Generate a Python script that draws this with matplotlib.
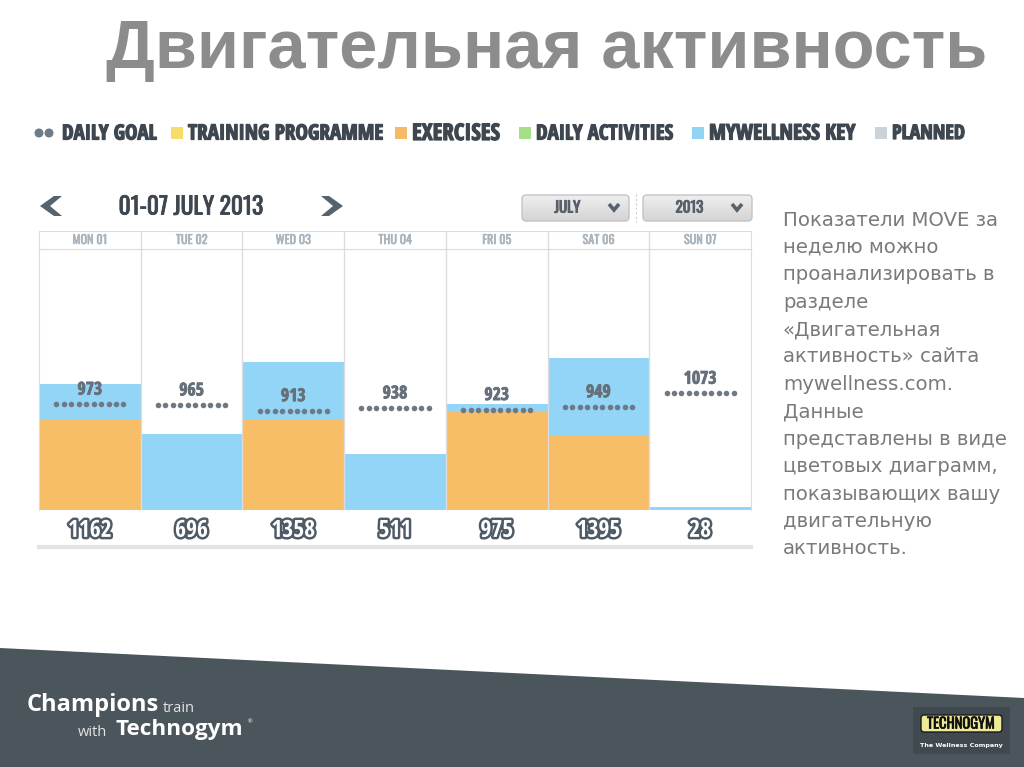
import matplotlib

matplotlib.use("Agg")
import matplotlib.pyplot as plt
import matplotlib.patheffects as pe
from matplotlib.patches import Polygon, Rectangle, FancyBboxPatch, Circle
from matplotlib.transforms import blended_transform_factory
from matplotlib.colors import LinearSegmentedColormap
import numpy as np

W, H = 1024, 767

# === data ===
days = ["MON 01", "TUE 02", "WED 03", "THU 04", "FRI 05", "SAT 06", "SUN 07"]
totals = [1162, 696, 1358, 511, 975, 1395, 28]
exercises = [835, 0, 835, 0, 900, 680, 0]
mywellness_key = [t - e for t, e in zip(totals, exercises)]
daily_goal = [973, 965, 913, 938, 923, 949, 1073]

legend_labels = ["DAILY GOAL", "TRAINING PROGRAMME", "EXERCISES",
                 "DAILY ACTIVITIES", "MYWELLNESS KEY", "PLANNED"]
legend_colors = [None, "#F7DE6A", "#F6B965", "#A6DF88", "#8FD3F5", "#CBD2D9"]

title = "Двигательная активность"
week_label = "01-07 JULY 2013"
month_label = "JULY"
year_label = "2013"
side_lines = [
    "Показатели MOVE за",
    "неделю можно",
    "проанализировать в",
    "разделе",
    "«Двигательная",
    "активность» сайта",
    "mywellness.com.",
    "Данные",
    "представлены в виде",
    "цветовых диаграмм,",
    "показывающих вашу",
    "двигательную",
    "активность.",
]

# --- styles ---
COND = ["Open Sans Condensed", "IBM Plex Sans Condensed", "DejaVu Sans"]
OSW = ["Oswald", "IBM Plex Sans Condensed", "DejaVu Sans"]
ORANGE = "#F7BD67"
BLUE = "#92D5F7"
GRID = "#DCDCDC"
DOT = "#6E7983"
DARK = "#3E4750"


def heavy(color, w=0.8):
    # thin stroke in the text colour to make the condensed font look heavier
    return [pe.withStroke(linewidth=w, foreground=color)]


fig = plt.figure(figsize=(W / 100, H / 100), dpi=100)
fig.patch.set_facecolor("white")

# background axes in pixel coords (y down)
bg = fig.add_axes([0, 0, 1, 1])
bg.axis("off")

# title
bg.text(547, 50, title, ha="center", va="center", fontsize=49.3,
        fontweight="bold", family="Liberation Sans", color="#8C8C8C")

# legend
leg_x = [62, 171, 395, 519, 692, 875]
leg_y = 133
leg_size = [15, 15.2, 16.5, 15, 15.5, 14.4]
for lx, lab, col, fs in zip(leg_x, legend_labels, legend_colors, leg_size):
    if col is None:
        bg.add_patch(Circle((39, leg_y), 3.8, color="#6F7B86"))
        bg.add_patch(Circle((49, leg_y), 3.8, color="#6F7B86"))
        tx = lx
    else:
        bg.add_patch(Rectangle((lx, leg_y - 6), 12, 12, color=col, lw=0))
        tx = lx + 17
    bg.text(tx, leg_y + 1, lab, ha="left", va="center", fontsize=fs,
            fontweight="bold", family=COND, color=DARK, path_effects=heavy(DARK, 0.9))

# week navigation
arrow_c = "#56636E"
bg.add_patch(Polygon([(54, 196), (62, 196), (50, 206), (62, 216), (54, 216), (40, 206)],
                     closed=True, color=arrow_c, lw=0))
bg.add_patch(Polygon([(321, 196), (329, 196), (343, 206), (329, 216), (321, 216), (333, 206)],
                     closed=True, color=arrow_c, lw=0))
bg.text(191, 207, week_label, ha="center", va="center", fontsize=17,
        family=OSW, color=DARK, path_effects=heavy(DARK, 0.6))

# dropdowns with a soft vertical gradient
grad_cmap = LinearSegmentedColormap.from_list("dd", ["#EFEFEF", "#D4D4D4"])
for x0, x1, lab in [(522, 629, month_label), (643, 752, year_label)]:
    box = FancyBboxPatch((x0, 195), x1 - x0, 26,
                         boxstyle="round,pad=0,rounding_size=4",
                         facecolor="none", edgecolor="#C4C4C4", lw=1, zorder=3)
    bg.add_patch(box)
    im = bg.imshow(np.linspace(0, 1, 40).reshape(-1, 1), extent=(x0, x1, 221, 195),
                   cmap=grad_cmap, aspect="auto", origin="upper", zorder=2)
    im.set_clip_path(box)
    bg.text((x0 + x1) / 2 - 8, 208, lab, ha="center", va="center",
            fontsize=10.8, family=OSW, color="#56606A", zorder=4,
            path_effects=heavy("#56606A", 0.7))
    cx = x1 - 15
    bg.plot([cx - 5, cx, cx + 5], [204, 210, 204], color="#56636E", lw=2.6,
            solid_capstyle="butt", solid_joinstyle="miter", zorder=4)
bg.plot([636, 636], [194, 222], color="#D0D0D0", lw=0.8, ls=(0, (2, 2)))

# bottom line under numbers
bg.plot([39, 751], [547, 547], color="#E4E4E4", lw=3)

# side text
for k, line in enumerate(side_lines):
    bg.text(783, 220 + 27.4 * k, line, ha="left", va="center", fontsize=14.2,
            family="DejaVu Sans", color="#7A7A7A")

# footer
bg.add_patch(Polygon([(0, 648), (W, 698), (W, H), (0, H)], closed=True,
                     color="#4A555C", lw=0))
bg.text(27, 705, "Champions", ha="left", va="center", fontsize=17,
        fontweight="bold", family="Open Sans", color="white")
bg.text(163, 709, "train", ha="left", va="center", fontsize=10.5,
        family="Open Sans", color="#E4E4E4")
bg.text(78, 732, "with", ha="left", va="center", fontsize=10.5,
        family="Open Sans", color="#E4E4E4")
bg.text(116, 729, "Technogym", ha="left", va="center", fontsize=16.2,
        fontweight="bold", family="Open Sans", color="white")
bg.text(246, 722, "®", ha="left", va="center", fontsize=4.5, color="white")

# logo
bg.add_patch(Rectangle((913, 707), 97, 47, color="#3F494F", lw=0))
bg.add_patch(FancyBboxPatch((921, 715), 81, 17, boxstyle="round,pad=0,rounding_size=3",
                            facecolor="#EFEA98", edgecolor="#1A1A1A", lw=1))
bg.text(961, 724, "TECHNOGYM", ha="center", va="center", fontsize=10.5,
        family=OSW, color="#111111", path_effects=heavy("#111111", 0.5))
bg.text(961, 746, "The Wellness Company", ha="center", va="center", fontsize=4.6,
        fontweight="bold", color="white")

bg.set_xlim(0, W)
bg.set_ylim(H, 0)

# === chart ===
x = np.arange(len(days))
left, right = 39, 751
ax = fig.add_axes([left / W, 1 - 510 / H, (right - left) / W, 261 / H])
ax.set_xlim(-0.5, len(days) - 0.5)
ax.set_ylim(0, 2400)
ax.bar(x, exercises, width=1.0, color=ORANGE, lw=0, zorder=1)
ax.bar(x, mywellness_key, width=1.0, bottom=exercises, color=BLUE, lw=0, zorder=1)
for b in x[:-1]:
    ax.axvline(b + 0.5, color=GRID, lw=1, zorder=2)
for s in ["left", "right", "top"]:
    ax.spines[s].set_color(GRID)
ax.spines["bottom"].set_visible(False)
ax.set_xticks([])
ax.set_yticks([])

# daily goal dots and labels
for i, g in enumerate(daily_goal):
    xs = i + np.linspace(-0.33, 0.33, 10)
    ax.scatter(xs, [g] * len(xs), s=16, color=DOT, lw=0, zorder=5)
    ax.annotate(str(g), (i, g), xytext=(0, 10.5), textcoords="offset points",
                ha="center", va="center", fontsize=12.8, fontweight="bold",
                family=COND, color="#66707A", zorder=6,
                path_effects=heavy("#66707A", 0.6))

# totals below bars
trans = blended_transform_factory(ax.transData, ax.transAxes)
for i, t in enumerate(totals):
    ax.text(i, -0.08, str(t), transform=trans, ha="center", va="center",
            fontsize=17, fontweight="bold", family=COND, color="white",
            clip_on=False,
            path_effects=[pe.withStroke(linewidth=3.5, foreground="#4E5A65")])

# header row with day names
hx = fig.add_axes([left / W, 1 - 249 / H, (right - left) / W, 18 / H])
hx.set_xlim(-0.5, len(days) - 0.5)
hx.set_ylim(0, 1)
for b in x[:-1]:
    hx.axvline(b + 0.5, color=GRID, lw=1)
for s in hx.spines.values():
    s.set_color(GRID)
hx.set_xticks([])
hx.set_yticks([])
for i, d in enumerate(days):
    hx.text(i, 0.5, d, ha="center", va="center", fontsize=8.8,
            family=OSW, color="#A9B4BE", path_effects=heavy("#A9B4BE", 0.4))

fig.savefig("out.png", dpi=100, facecolor="white")
